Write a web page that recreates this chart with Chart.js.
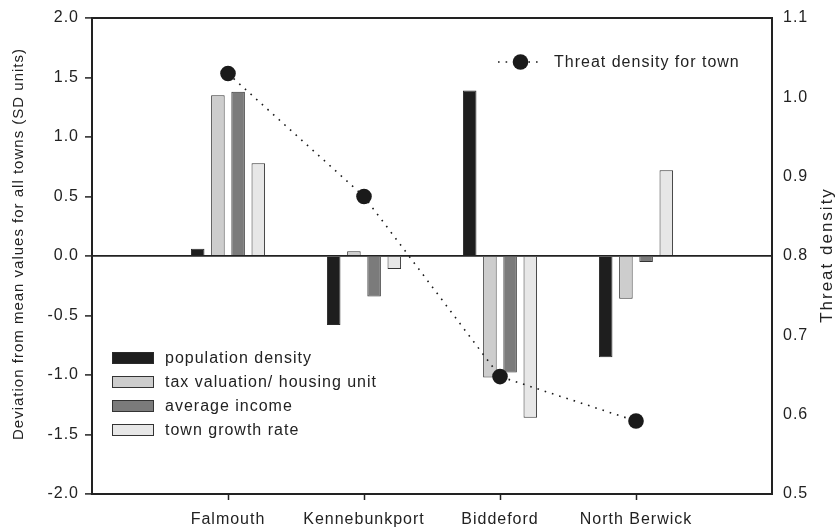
<!DOCTYPE html>
<html>
<head>
<meta charset="utf-8">
<script src="https://cdn.jsdelivr.net/npm/chart.js@4/dist/chart.umd.min.js"></script>
<style>
  html, body { margin: 0; padding: 0; background: #fff; }
  #wrap { width: 840px; height: 529px; position: relative; }
</style>
</head>
<body>
<div id="wrap"><canvas id="chart"></canvas></div>
<script>
// Towns compared (x categories)
const towns = ['Falmouth', 'Kennebunkport', 'Biddeford', 'North Berwick'];

// Deviation from the all-town mean, in SD units
const populationDensity = [0.06, -0.58, 1.39, -0.85];
const taxValuation      = [1.35, 0.04, -1.02, -0.36];
const averageIncome     = [1.38, -0.34, -0.98, -0.05];
const townGrowthRate    = [0.78, -0.11, -1.36, 0.72];

// Threat density per town (right axis)
const threatDensity = [1.03, 0.875, 0.648, 0.592];

// Axis tick values
const deviationTicks = [-2.0, -1.5, -1.0, -0.5, 0.0, 0.5, 1.0, 1.5, 2.0];
const threatTicks = [0.5, 0.6, 0.7, 0.8, 0.9, 1.0, 1.1];

const INK = '#222222';
const FAMILY = '"Liberation Sans", Arial, sans-serif';
const FONT = { family: FAMILY, size: 16 };
const FONT_CSS = '16px ' + FAMILY;

// empty slot on each side so the towns sit at 1..4 of a 0..5 axis
const padded = arr => [null, ...arr, null];
const labels = ['', ...towns, ''];

const barStyle = (label, data, fill, edge) => ({
  type: 'bar',
  label,
  data: padded(data),
  backgroundColor: fill,
  borderColor: edge,
  borderWidth: 1,
  yAxisID: 'y',
  order: 1,
  categoryPercentage: 0.594,
  barPercentage: 0.67
});

const spacing = {
  id: 'spacing',
  beforeUpdate(chart) { chart.ctx.letterSpacing = '1px'; },
  beforeDraw(chart) { chart.ctx.letterSpacing = '1px'; }
};

const frameAndLegends = {
  id: 'frameAndLegends',
  afterDraw(chart) {
    const { ctx, chartArea: a } = chart;
    ctx.save();
    ctx.letterSpacing = '1px';

    // top edge of the frame
    ctx.strokeStyle = INK;
    ctx.lineWidth = 2;
    ctx.beginPath();
    ctx.moveTo(a.left - 1, a.top);
    ctx.lineTo(a.right + 1, a.top);
    ctx.stroke();

    // axis titles, both reading upwards
    ctx.fillStyle = INK;
    ctx.textAlign = 'center';
    ctx.textBaseline = 'middle';

    ctx.save();
    ctx.translate(19, 244);
    ctx.rotate(-Math.PI / 2);
    ctx.font = '15px ' + FAMILY;
    ctx.fillText('Deviation from mean values for all towns (SD units)', 0, 0);
    ctx.restore();

    ctx.save();
    ctx.translate(827, 255);
    ctx.rotate(-Math.PI / 2);
    ctx.letterSpacing = '2px';
    ctx.font = '17px ' + FAMILY;
    ctx.fillText('Threat density', 0, 0);
    ctx.restore();

    // bar legend, lower left
    const bars = chart.data.datasets.filter(d => d.type === 'bar');
    ctx.font = FONT_CSS;
    ctx.textBaseline = 'middle';
    ctx.textAlign = 'left';
    bars.forEach((d, i) => {
      const cy = a.top + 340 + i * 24;
      ctx.fillStyle = d.backgroundColor;
      ctx.fillRect(a.left + 20, cy - 6, 42, 12);
      ctx.strokeStyle = d.borderColor;
      ctx.lineWidth = 1;
      ctx.strokeRect(a.left + 20.5, cy - 5.5, 41, 11);
      ctx.fillStyle = INK;
      ctx.fillText(d.label, a.left + 73, cy + 1);
    });

    // line legend, upper right
    const ln = chart.data.datasets.find(d => d.type === 'line');
    const ly = a.top + 44;
    ctx.strokeStyle = ln.borderColor;
    ctx.lineWidth = ln.borderWidth;
    ctx.setLineDash(ln.borderDash);
    ctx.beginPath();
    ctx.moveTo(498, ly);
    ctx.lineTo(543, ly);
    ctx.stroke();
    ctx.setLineDash([]);
    ctx.fillStyle = ln.pointBackgroundColor;
    ctx.beginPath();
    ctx.arc(520.5, ly, ln.pointRadius, 0, Math.PI * 2);
    ctx.fill();
    ctx.fillStyle = INK;
    ctx.fillText(ln.label, 554, ly + 1);

    ctx.restore();
  }
};

new Chart(document.getElementById('chart'), {
  type: 'bar',
  data: {
    labels,
    datasets: [
      {
        type: 'line',
        label: 'Threat density for town',
        data: padded(threatDensity),
        yAxisID: 'y2',
        borderColor: '#1a1a1a',
        borderWidth: 1.6,
        borderDash: [1.6, 6],
        pointRadius: 7.8,
        pointBackgroundColor: '#1a1a1a',
        pointBorderColor: '#1a1a1a',
        pointBorderWidth: 0,
        tension: 0,
        fill: false,
        order: 0
      },
      barStyle('population density', populationDensity, '#1e1e1e', '#2a2a2a'),
      barStyle('tax valuation/ housing unit', taxValuation, '#cdcdcd', '#333333'),
      barStyle('average income', averageIncome, '#7b7b7b', '#333333'),
      barStyle('town growth rate', townGrowthRate, '#e7e7e7', '#333333')
    ]
  },
  options: {
    responsive: true,
    maintainAspectRatio: false,
    animation: false,
    devicePixelRatio: 1,
    layout: { padding: { top: 18, right: 0, bottom: 0, left: 0 } },
    plugins: { legend: { display: false }, tooltip: { enabled: false } },
    scales: {
      x: {
        type: 'category',
        offset: false,
        grid: {
          offset: false,
          drawOnChartArea: false,
          drawTicks: true,
          tickLength: 6,
          tickWidth: 1.5,
          tickColor: ctx => (ctx.index === 0 || ctx.index === labels.length - 1) ? 'rgba(0,0,0,0)' : INK
        },
        border: { display: true, color: INK, width: 2 },
        ticks: { color: INK, font: FONT, padding: 10, maxRotation: 0, autoSkip: false },
        afterFit: s => { s.height = 35; }
      },
      y: {
        position: 'left',
        min: -2,
        max: 2,
        afterBuildTicks: s => { s.ticks = deviationTicks.map(v => ({ value: v })); },
        ticks: { color: INK, font: FONT, padding: 6, callback: v => Number(v).toFixed(1) },
        grid: {
          drawOnChartArea: true,
          color: ctx => (ctx.tick && ctx.tick.value === 0) ? INK : 'rgba(0,0,0,0)',
          lineWidth: 1.8,
          drawTicks: true,
          tickLength: 7,
          tickWidth: 1.5,
          tickColor: INK
        },
        border: { display: true, color: INK, width: 2 },
        afterFit: s => { s.width = 92; }
      },
      y2: {
        position: 'right',
        min: 0.5,
        max: 1.1,
        afterBuildTicks: s => { s.ticks = threatTicks.map(v => ({ value: v })); },
        ticks: { color: INK, font: FONT, padding: 3, callback: v => Number(v).toFixed(1) },
        grid: { drawOnChartArea: false, drawTicks: true, tickLength: 8, tickColor: 'rgba(0,0,0,0)' },
        border: { display: true, color: INK, width: 2 },
        afterFit: s => { s.width = 68; }
      }
    }
  },
  plugins: [spacing, frameAndLegends]
});
</script>
</body>
</html>
